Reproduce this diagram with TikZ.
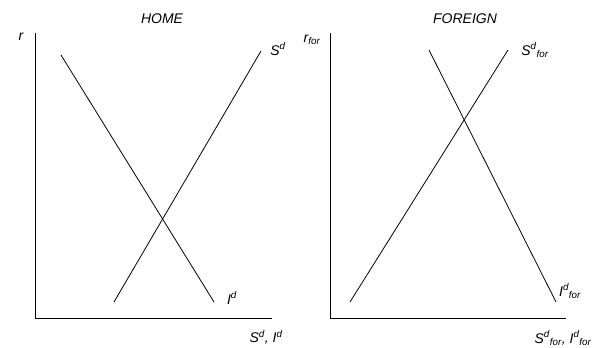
\documentclass[tikz,border=0pt]{standalone}
\usepackage{fontspec}
\setmainfont{Liberation Sans}
\begin{document}
\begin{tikzpicture}[x=1pt,y=-1pt,
  lbl/.style={font=\fontsize{14}{16}\selectfont\itshape, inner sep=0pt},
  axis/.style={line width=1pt},
  curve/.style={line width=0.8pt}]
\useasboundingbox (0,0) rectangle (600,348);
% HOME
\coordinate (hTop) at (35,33);
\coordinate (hO) at (35,318);
\coordinate (hRight) at (272,318);
\draw[axis] (hTop) -- (hO) -- (hRight);
\coordinate (hI1) at (61,55);
\coordinate (hI2) at (214,302);
\coordinate (hS1) at (114,302);
\coordinate (hS2) at (261,51);
\draw[curve] (hI1) -- (hI2);
\draw[curve] (hS1) -- (hS2);
\node[lbl] (home) at (162,19) {HOME};
\node[lbl] (hr) at (21,37) {r};
\node[lbl] (hSd) at (278,49) {S\textsuperscript{d}};
\node[lbl] (hId) at (232,298) {I\textsuperscript{d}};
\node[lbl] (hx) at (266,337) {S\textsuperscript{d}, I\textsuperscript{d}};
% FOREIGN
\coordinate (fTop) at (330,33);
\coordinate (fO) at (330,318);
\coordinate (fRight) at (566,318);
\draw[axis] (fTop) -- (fO) -- (fRight);
\coordinate (fS1) at (350,302);
\coordinate (fS2) at (508,50);
\coordinate (fI1) at (429,50);
\coordinate (fI2) at (556,302);
\draw[curve] (fS1) -- (fS2);
\draw[curve] (fI1) -- (fI2);
\node[lbl] (foreign) at (465,19) {FOREIGN};
\node[lbl] (fr) at (312,40) {r\textsubscript{for}};
\node[lbl] (fSd) at (535,50) {S\textsuperscript{d}\textsubscript{for}};
\node[lbl] (fId) at (570,291) {I\textsuperscript{d}\textsubscript{for}};
\node[lbl] (fx) at (563,338) {S\textsuperscript{d}\textsubscript{for}, I\textsuperscript{d}\textsubscript{for}};
\end{tikzpicture}
\end{document}
